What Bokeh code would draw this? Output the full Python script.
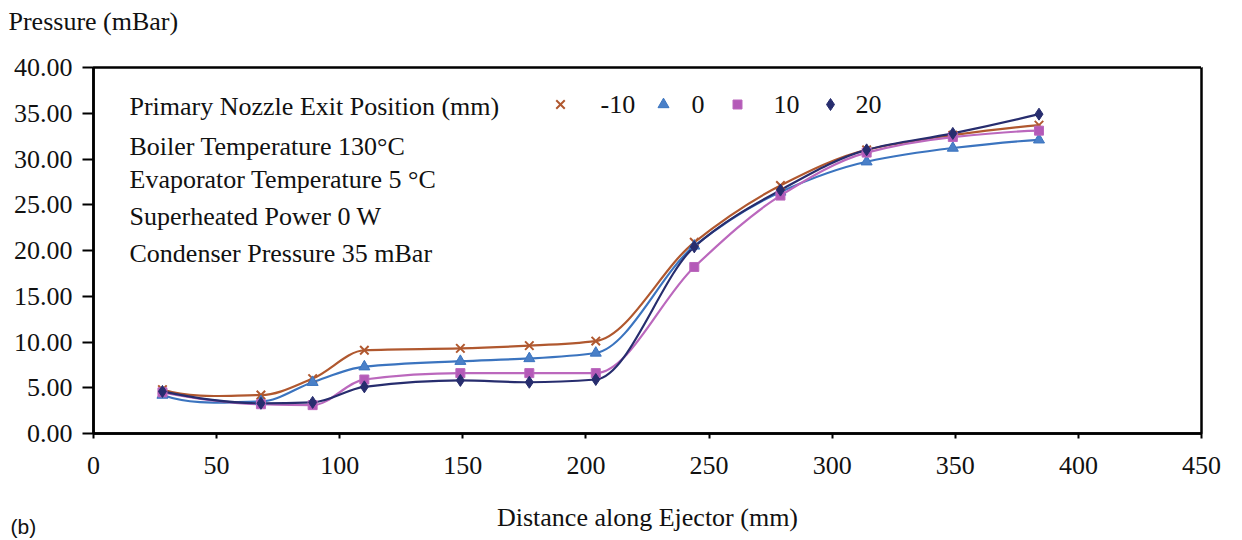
from bokeh.plotting import figure
from bokeh.models import Range1d, NumeralTickFormatter, FixedTicker, Label, Title, LinearAxis
from bokeh.embed import file_html
from bokeh.resources import INLINE

# ---------------- data ----------------
distance_mm = [28, 68, 89, 110, 149, 177, 204, 244, 279, 314, 349, 384]
pressure_m10 = [4.8, 4.2, 6.0, 9.1, 9.3, 9.6, 10.1, 20.9, 27.1, 31.0, 32.6, 33.7]
pressure_0 = [4.2, 3.5, 5.6, 7.3, 7.9, 8.2, 8.8, 20.5, 26.4, 29.7, 31.2, 32.1]
pressure_10 = [4.5, 3.2, 3.1, 5.9, 6.6, 6.6, 6.6, 18.2, 26.0, 30.7, 32.4, 33.1]
pressure_20 = [4.6, 3.3, 3.4, 5.1, 5.8, 5.6, 5.9, 20.4, 26.6, 31.0, 32.8, 34.9]
series_labels = ["-10", "0", "10", "20"]
x_ticks = [0, 50, 100, 150, 200, 250, 300, 350, 400, 450]
y_ticks = [0, 5, 10, 15, 20, 25, 30, 35, 40]
info_lines = [
    "Primary Nozzle Exit Position (mm)",
    "Boiler Temperature 130\u00b0C",
    "Evaporator Temperature 5 \u00b0C",
    "Superheated Power 0 W",
    "Condenser Pressure 35 mBar",
]

# ---------------- layout ----------------
W, H = 1242, 540
L, R, T, B = 93, 41, 67, 107
FW, FH = W - L - R, H - T - B
XMAX, YMAX = 450, 40
SERIF = "Liberation Serif"
FS = "26px"


def dx(px):
    return (px - L) / FW * XMAX


def dy(py):
    return (H - B - py) / FH * YMAX


colors = ["#b0582f", "#3b74bf", "#bb68bd", "#272d6e"]
marker_fill = ["#b0582f", "#4a80c8", "#b45ab8", "#272d6e"]
markers = ["x", "triangle", "square", "diamond"]
msizes = [12, 11, 9, 12]
series = [pressure_m10, pressure_0, pressure_10, pressure_20]

p = figure(width=W, height=H, x_range=Range1d(0, XMAX), y_range=Range1d(0, YMAX),
           output_backend="svg", toolbar_location=None,
           min_border_left=L, min_border_right=R, min_border_top=T, min_border_bottom=B)
p.xgrid.visible = False
p.ygrid.visible = False
p.outline_line_color = "black"
p.outline_line_width = 2.5
p.background_fill_color = "white"
p.border_fill_color = "white"

xa = p.below[0]
ya = p.left[0]

for ax in (xa, ya):
    ax.axis_line_width = 2.5
    ax.axis_line_color = "black"
    ax.major_tick_line_width = 2
    ax.major_tick_line_color = "black"
    ax.minor_tick_line_color = None
    ax.major_tick_in = 0
    ax.major_label_text_font = SERIF
    ax.major_label_text_font_size = FS
    ax.major_label_text_color = "#111111"

xa.ticker = FixedTicker(ticks=x_ticks)
ya.ticker = FixedTicker(ticks=y_ticks)
ya.formatter = NumeralTickFormatter(format="0.00")
xa.major_tick_out = 5
ya.major_tick_out = 11
xa.major_label_standoff = 18
ya.major_label_standoff = 10
xa.axis_label = "Distance along Ejector (mm)"
xa.axis_label_text_font = SERIF
xa.axis_label_text_font_size = FS
xa.axis_label_text_font_style = "normal"
xa.axis_label_text_color = "#111111"
xa.axis_label_standoff = 26

# invisible spacer above the frame so the y title sits near the top edge
spacer = LinearAxis(ticker=FixedTicker(ticks=[XMAX]), axis_line_color=None,
                    major_tick_line_color="white", major_tick_line_width=1,
                    minor_tick_line_color=None,
                    major_tick_out=32, major_tick_in=0, minor_tick_out=0, minor_tick_in=0,
                    major_label_overrides={XMAX: ""}, major_label_text_font_size="1px",
                    major_label_standoff=0)
p.add_layout(spacer, "above")

# y-axis title placed at top-left, horizontal
p.title.text = "Pressure (mBar)"
p.title.align = "left"
p.title.offset = 8 - L
p.title.standoff = 0
p.title.vertical_align = "bottom"
p.title.text_font = SERIF
p.title.text_font_size = FS
p.title.text_font_style = "normal"
p.title.text_color = "#111111"

# panel tag "(b)" at bottom-left, sharing the row of the x-axis title
p.add_layout(Title(text="(b)", align="left", offset=10 - L, vertical_align="top",
                   standoff=-40, text_font="Liberation Sans", text_font_size="21px",
                   text_font_style="normal", text_color="#111111"), "below")


# ---------------- smooth curves (monotone cubic -> Bezier) ----------------
def tangents(xs, ys):
    n = len(xs)
    h = [xs[k + 1] - xs[k] for k in range(n - 1)]
    d = [(ys[k + 1] - ys[k]) / h[k] for k in range(n - 1)]
    m = [0.0] * n
    for k in range(1, n - 1):
        if d[k - 1] * d[k] <= 0:
            m[k] = 0.0
        else:
            w1 = 2 * h[k] + h[k - 1]
            w2 = h[k] + 2 * h[k - 1]
            m[k] = (w1 + w2) / (w1 / d[k - 1] + w2 / d[k])
    m0 = ((2 * h[0] + h[1]) * d[0] - h[0] * d[1]) / (h[0] + h[1])
    if m0 * d[0] <= 0:
        m0 = 0.0
    m[0] = m0
    mn = ((2 * h[-1] + h[-2]) * d[-1] - h[-1] * d[-2]) / (h[-1] + h[-2])
    if mn * d[-1] <= 0:
        mn = 0.0
    m[-1] = mn
    return h, m


for ys, col in zip(series, colors):
    h, m = tangents(distance_mm, ys)
    n = len(distance_mm)
    cx0 = [distance_mm[k] + h[k] / 3 for k in range(n - 1)]
    cy0 = [ys[k] + m[k] * h[k] / 3 for k in range(n - 1)]
    cx1 = [distance_mm[k + 1] - h[k] / 3 for k in range(n - 1)]
    cy1 = [ys[k + 1] - m[k + 1] * h[k] / 3 for k in range(n - 1)]
    p.bezier(x0=distance_mm[:-1], y0=ys[:-1], x1=distance_mm[1:], y1=ys[1:],
             cx0=cx0, cy0=cy0, cx1=cx1, cy1=cy1, line_color=col, line_width=2.2)

for ys, col, fc, mk, ms in zip(series, colors, marker_fill, markers, msizes):
    p.scatter(distance_mm, ys, marker=mk, size=ms, line_color=col, fill_color=fc,
              line_width=2 if mk == "x" else 1)

# ---------------- legend / info text ----------------
info_y = [106, 146, 179, 216, 253]
for txt, py in zip(info_lines, info_y):
    p.add_layout(Label(x=dx(129), y=dy(py), text=txt, text_font=SERIF,
                       text_font_size=FS, text_baseline="middle", text_align="left",
                       text_color="#111111"))

leg_marker_px = [560, 663, 737, 830]
leg_label_px = [600, 691, 773, 855]
leg_y = 104
for lab, mpx, lpx, col, fc, mk, ms in zip(series_labels, leg_marker_px, leg_label_px,
                                          colors, marker_fill, markers, msizes):
    p.scatter([dx(mpx)], [dy(leg_y)], marker=mk, size=ms, line_color=col, fill_color=fc,
              line_width=2 if mk == "x" else 1)
    p.add_layout(Label(x=dx(lpx), y=dy(leg_y), text=lab, text_font=SERIF,
                       text_font_size=FS, text_baseline="middle", text_align="left",
                       text_color="#111111"))

open("out.html", "w").write(file_html(p, INLINE))
